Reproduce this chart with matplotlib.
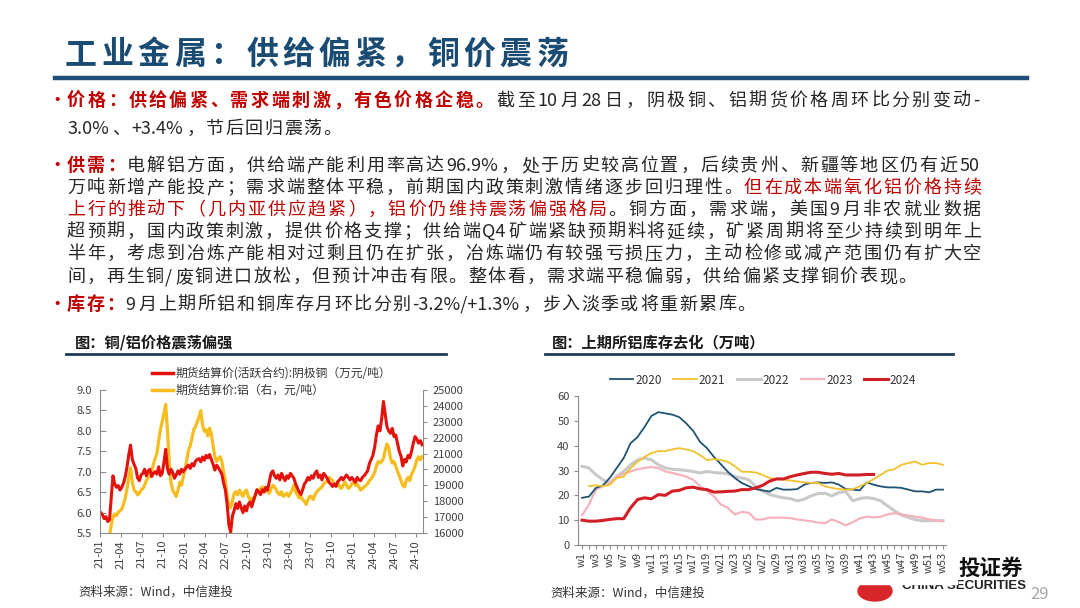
import matplotlib
matplotlib.use('Agg')
import numpy as np
import pandas as pd
import matplotlib.pyplot as plt
import matplotlib.dates as mdates
from matplotlib.lines import Line2D
from matplotlib.patches import Rectangle, Ellipse

plt.rcParams['font.family'] = ['Noto Sans CJK SC', 'DejaVu Sans']
plt.rcParams['axes.unicode_minus'] = False

# ---------------- data ----------------
# 阴极铜期货结算价 (万元/吨), 4 points per month, 2021-01 .. 2024-10
copper = [
    6.00, 5.95, 5.85, 5.90,  5.78, 5.82, 6.35, 6.90,  6.70, 6.62, 6.66, 6.55,
    6.62, 6.72, 6.88, 7.12,  7.42, 7.65, 7.30, 7.18,  7.08, 6.85, 6.78, 6.92,
    6.96, 7.06, 6.90, 7.02,  7.06, 6.88, 6.96, 7.00,  6.94, 7.12, 6.90, 6.96,
    7.22, 7.55, 7.08, 6.94,  7.06, 6.98, 6.84, 6.92,  7.02, 6.94, 7.06, 7.00,
    7.06, 7.12, 7.16, 7.08,  7.20, 7.14, 7.26, 7.30,  7.32, 7.24, 7.36, 7.28,
    7.40, 7.34, 7.42, 7.30,  7.18, 7.04, 7.16, 7.10,  7.02, 6.94, 6.72, 6.55,
    6.20, 5.70, 5.52, 5.92,  6.05, 6.22, 6.10, 6.26,  6.12, 6.00, 6.16, 6.04,
    6.20, 6.26, 6.14, 6.30,  6.42, 6.56, 6.50, 6.44,  6.56, 6.50, 6.62, 6.55,
    6.76, 6.96, 7.02, 6.90,  6.84, 6.92, 6.80, 6.96,  6.86, 6.78, 6.90, 6.84,
    6.96, 6.90, 6.84, 6.70,  6.60, 6.50, 6.44, 6.56,  6.70, 6.76, 6.86, 6.80,
    6.90, 6.84, 6.96, 7.02,  6.86, 6.92, 6.80, 6.96,  6.90, 6.84, 6.74, 6.70,
    6.64, 6.70, 6.64, 6.76,  6.80, 6.86, 6.80, 6.86,  6.92, 6.86, 6.80, 6.86,
    6.80, 6.74, 6.86, 6.80,  6.78, 6.86, 6.90, 6.96,  7.02, 7.20, 7.30, 7.40,
    7.60, 7.90, 8.12, 8.00,  8.30, 8.72, 8.40, 8.10,  8.00, 7.94, 8.06, 7.86,
    7.90, 7.70, 7.50, 7.38,  7.14, 7.30, 7.24, 7.40,  7.34, 7.50, 7.70, 7.86,
    7.80, 7.70, 7.76, 7.66,
]
# 铝期货结算价 (元/吨)
aluminum = [
    15200, 15100, 15000, 15300,  15400, 15800, 16500, 17000,  17200, 17100, 17300, 17400,
    17500, 17800, 18200, 18800,  19500, 20100, 19200, 18700,  18600, 18400, 18500, 18700,
    18800, 19000, 19300, 19500,  19600, 19900, 20300, 20700,  21000, 21800, 22500, 23000,
    23500, 24100, 22500, 20500,  19200, 18700, 18500, 18300,  18700, 19200, 19000, 19500,
    20000, 20600, 21200, 21500,  22000, 22500, 22700, 23000,  23300, 23700, 22800, 22400,
    22500, 22100, 22600, 22200,  21500, 20800, 20500, 20700,  20800, 20500, 19800, 19300,
    18400, 17700, 17600, 18000,  18500, 18600, 18400, 18700,  18500, 18300, 18600, 18700,
    18300, 18100, 18200, 18000,  18400, 18700, 18600, 18800,  18900, 18800, 18700, 18600,
    18500, 18800, 19000, 18900,  18700, 18500, 18400, 18600,  18300, 18400, 18500, 18300,
    18500, 18700, 19000, 18600,  18400, 18200, 18300, 18100,  18000, 17800, 18100, 18300,
    18300, 18100, 18400, 18600,  18700, 18800, 18900, 19100,  19200, 19300, 19500, 19400,
    19300, 19100, 19000, 19200,  18900, 18800, 19000, 19200,  19000, 18800, 18900, 19100,
    19200, 19000, 19100, 18900,  18700, 18800, 18900, 19000,  19100, 19300, 19400, 19600,
    19800, 20200, 20500, 20400,  20500, 20700, 21200, 21600,  21400, 20700, 20400, 20500,
    20200, 19900, 19600, 19300,  19000, 18900, 19300, 19500,  19300, 19700, 19900, 20200,
    20600, 20800, 20600, 20800,
]
price_start, price_end = '2021-01-04', '2024-10-28'
legend_price = ['期货结算价(活跃合约):阴极铜（万元/吨）', '期货结算价:铝（右，元/吨）']

# 上期所铝库存 (万吨), by week
weeks = list(range(1, 54))
week_labels = ['w%d' % w if w % 2 == 1 else '' for w in weeks]
nan = np.nan
inv_2020 = [19.0, 19.5, 23.0, 24.0, 27.0, 31.0, 35.0, 41.0, 43.5, 47.5,
            52.0, 53.5, 53.0, 52.5, 51.5, 49.0, 46.0, 41.5, 39.0, 35.5,
            32.5, 29.5, 27.0, 25.0, 23.7, 22.5, 22.0, 21.5, 23.0, 22.3,
            22.3, 22.5, 24.3, 25.0, 25.2, 25.0, 25.2, 24.3, 22.5, 22.3,
            22.0, 25.2, 24.3, 23.6, 23.2, 23.2, 23.0, 22.3, 21.6, 21.6,
            21.2, 22.3, 22.3]
inv_2021 = [nan, 23.7, 24.0, 23.7, 24.2, 27.0, 27.5, 31.0, 33.5, 35.5,
            37.0, 37.8, 37.8, 38.5, 39.0, 38.5, 37.8, 36.2, 34.2, 34.6,
            34.2, 33.5, 31.8, 29.5, 29.5, 29.2, 28.2, 27.0, 26.5, 26.3,
            26.0, 25.6, 25.2, 25.0, 25.0, 23.6, 23.0, 22.5, 22.3, 22.5,
            23.6, 25.0, 26.5, 28.2, 30.0, 30.5, 32.3, 33.0, 33.6, 32.3,
            33.0, 33.0, 32.3]
inv_2022 = [31.7, 31.0, 28.3, 26.3, 25.0, 27.6, 29.6, 32.3, 34.3, 35.0,
            34.3, 32.3, 31.0, 30.5, 30.3, 30.0, 29.6, 29.0, 29.6, 29.2,
            29.0, 28.7, 27.6, 27.0, 26.3, 23.7, 21.7, 20.3, 19.6, 19.0,
            18.7, 17.8, 18.4, 19.8, 20.7, 20.8, 19.8, 21.1, 21.5, 17.8,
            18.7, 19.1, 18.7, 17.8, 15.8, 13.8, 12.1, 11.1, 10.2, 9.8,
            9.8, 9.8, 9.8]
inv_2023 = [12.0, 16.3, 22.3, 23.7, 25.0, 27.6, 28.7, 29.6, 30.5, 31.0,
            31.4, 31.0, 29.6, 29.0, 28.3, 27.6, 26.3, 23.7, 21.7, 19.6,
            16.3, 15.0, 12.3, 13.3, 13.0, 10.3, 10.3, 11.0, 11.0, 11.0,
            10.8, 10.3, 9.9, 9.6, 9.0, 8.8, 10.3, 9.2, 7.9, 9.2,
            10.7, 11.4, 11.1, 11.4, 12.3, 12.8, 12.3, 11.9, 11.4, 11.0,
            10.3, 9.9, 9.6]
inv_2024 = [10.0, 9.6, 9.6, 9.9, 10.3, 10.6, 10.6, 15.0, 18.3, 19.0,
            18.6, 20.3, 20.0, 21.7, 22.0, 23.0, 23.3, 22.6, 22.3, 21.3,
            21.4, 21.6, 21.7, 22.3, 22.3, 23.0, 24.0, 25.7, 26.6, 26.6,
            27.5, 28.2, 28.8, 29.3, 29.3, 28.8, 28.5, 28.8, 28.2, 28.2,
            28.2, 28.4, 28.4] + [nan] * 10
inv_years = ['2020', '2021', '2022', '2023', '2024']

RED = '#C00000'
INK = '#262626'
NAVY = '#1A4B73'

# ---------------- figure ----------------
W, H = 1080, 608
fig = plt.figure(figsize=(10.8, 6.08), dpi=100)
fig.patch.set_facecolor('white')
R = fig.canvas.get_renderer()


def fx(px):
    return px / W


def fy(py):
    return 1 - py / H


def put_line(segs, x0, base, fs, right=None, gap=1.5):
    # lays out text piece by piece so lines can be justified like the slide
    em = fs * 100 / 72.0
    items = []
    for txt, col, wt in segs:
        run = ''
        for ch in txt:
            if ord(ch) >= 0x2E80:
                if run:
                    items.append([run, col, wt, None])
                    run = ''
                items.append([ch, col, wt, em])
            else:
                run += ch
        if run:
            items.append([run, col, wt, None])
    for it in items:
        if it[3] is None:
            t = fig.text(0, 0, it[0], fontsize=fs, weight=it[2])
            it[3] = t.get_window_extent(renderer=R).width + 1.5
            t.remove()
    if right is not None and len(items) > 1:
        gap = (right - x0 - sum(i[3] for i in items)) / (len(items) - 1)
    x = x0
    for s, col, wt, w in items:
        fig.text(fx(x), fy(base), s, fontsize=fs, color=col, weight=wt,
                 ha='left', va='baseline')
        x += w + gap


# title
put_line([('工业金属：供给偏紧，铜价震荡', NAVY, 'bold')], 65, 64, 23, right=568)
fig.add_artist(Line2D([fx(55), fx(1027)], [fy(78), fy(78)], lw=3.2, color='#1F4E79'))

# bullet text
FS = 13
R_EDGE = 981
for yb in (106, 171, 310):
    fig.text(fx(47), fy(yb), '•', fontsize=14, color=RED, ha='left', va='baseline')

put_line([('价格：供给偏紧、需求端刺激，有色价格企稳。', RED, 'bold'),
          ('截至10月28日，阴极铜、铝期货价格周环比分别变动-', INK, 'normal')], 67, 106, FS, R_EDGE)
put_line([('3.0%、+3.4%，节后回归震荡。', INK, 'normal')], 67, 134, FS)
put_line([('供需：', RED, 'bold'),
          ('电解铝方面，供给端产能利用率高达96.9%，处于历史较高位置，后续贵州、新疆等地区仍有近50', INK, 'normal')],
         67, 171, FS, R_EDGE)
put_line([('万吨新增产能投产；需求端整体平稳，前期国内政策刺激情绪逐步回归理性。', INK, 'normal'),
          ('但在成本端氧化铝价格持续', RED, 'normal')], 67, 193, FS, R_EDGE)
put_line([('上行的推动下（几内亚供应趋紧），铝价仍维持震荡偏强格局', RED, 'normal'),
          ('。铜方面，需求端，美国9月非农就业数据', INK, 'normal')], 67, 215, FS, R_EDGE)
put_line([('超预期，国内政策刺激，提供价格支撑；供给端Q4矿端紧缺预期料将延续，矿紧周期将至少持续到明年上', INK, 'normal')],
         67, 237, FS, R_EDGE)
put_line([('半年，考虑到冶炼产能相对过剩且仍在扩张，冶炼端仍有较强亏损压力，主动检修或减产范围仍有扩大空', INK, 'normal')],
         67, 259, FS, R_EDGE)
put_line([('间，再生铜/废铜进口放松，但预计冲击有限。整体看，需求端平稳偏弱，供给偏紧支撑铜价表现。', INK, 'normal')],
         67, 282, FS)
put_line([('库存：', RED, 'bold'),
          ('9月上期所铝和铜库存月环比分别-3.2%/+1.3%，步入淡季或将重新累库。', INK, 'normal')], 67, 310, FS)

# chart headers
fig.text(fx(75), fy(347), '图：铜/铝价格震荡偏强', fontsize=11, weight='bold', color='#1a1a1a',
         ha='left', va='baseline')
fig.add_artist(Line2D([fx(66), fx(446)], [fy(354), fy(354)], lw=2.0, color='#1F3A5A'))
fig.text(fx(552), fy(347), '图：上期所铝库存去化（万吨）', fontsize=11, weight='bold', color='#1a1a1a',
         ha='left', va='baseline')
fig.add_artist(Line2D([fx(545), fx(953)], [fy(354), fy(354)], lw=2.0, color='#1F3A5A'))

GRAYTXT = '#404040'
SPINE = '#8c8c8c'

# logo block (drawn first, partly hidden behind the chart area like on the slide)
fig.add_artist(Ellipse((fx(875), fy(591)), 34 / W, 20 / H, color='#D9262B', zorder=1))
fig.text(fx(902), fy(589), 'CHINA SECURITIES', fontsize=9.5, weight='bold', color='#222222',
         ha='left', va='baseline', zorder=1, family=['Liberation Sans', 'DejaVu Sans'])
fig.add_artist(Rectangle((fx(845), fy(584)), 112 / W, 8 / H, color='white', zorder=2))
fig.text(fx(958), fy(575), '投证券', fontsize=15.5, weight='bold', color='#111111', ha='left', va='baseline')
fig.text(fx(1030), fy(599), '29', fontsize=12, color='#A6A6A6', ha='left', va='baseline')

# ---------------- left chart ----------------
dates = pd.date_range(price_start, price_end, periods=len(copper))
ax = fig.add_axes([fx(100), fy(533), (423 - 100) / W, (533 - 390) / H])
ax2 = ax.twinx()
ax2.plot(dates, aluminum, color='#F7BD1E', lw=2.3)
ax.plot(dates, copper, color='#E3120B', lw=2.2)
ax.set_zorder(ax2.get_zorder() + 1)
ax.patch.set_visible(False)

ax.set_ylim(5.5, 9.0)
ax2.set_ylim(16000, 25000)
ax.set_yticks(np.arange(5.5, 9.01, 0.5))
ax.set_yticklabels(['%.1f' % v for v in np.arange(5.5, 9.01, 0.5)])
ax2.set_yticks(np.arange(16000, 25001, 1000))
ax.set_xlim(pd.Timestamp('2021-01-01'), pd.Timestamp('2024-11-01'))
ax.xaxis.set_major_locator(mdates.MonthLocator(bymonth=[1, 4, 7, 10]))
ax.xaxis.set_major_formatter(mdates.DateFormatter('%y-%m'))

for s in ('top', 'right'):
    ax.spines[s].set_visible(False)
for s in ('top', 'left', 'bottom'):
    ax2.spines[s].set_visible(False)
for sp in (ax.spines['left'], ax.spines['bottom'], ax2.spines['right']):
    sp.set_color(SPINE)
    sp.set_linewidth(0.8)
ax.tick_params(axis='y', direction='in', length=4, color=SPINE, labelsize=8, labelcolor=GRAYTXT, pad=6)
ax.tick_params(axis='x', direction='out', length=3, color=SPINE, labelsize=8, labelcolor=GRAYTXT,
               rotation=90, pad=2)
ax2.tick_params(axis='y', direction='out', length=3, color=SPINE, labelsize=8, labelcolor=GRAYTXT, pad=4)

h_cu = Line2D([], [], color='#E3120B', lw=2.5)
h_al = Line2D([], [], color='#F7BD1E', lw=2.5)
ax.legend([h_cu, h_al], legend_price, loc='upper left', bbox_to_anchor=(fx(152), fy(367)),
          bbox_transform=fig.transFigure, frameon=False, fontsize=8.5, handlelength=1.8,
          handletextpad=0.2, labelspacing=0.35, borderpad=0, borderaxespad=0, labelcolor='#333333')

# ---------------- right chart ----------------
bx = fig.add_axes([fx(578), fy(545), (946 - 578) / W, (545 - 396) / H])
styles = {
    '2020': ('#1F5373', 1.3, 3),
    '2021': ('#F2C12E', 1.3, 4),
    '2022': ('#C9C9C9', 2.2, 1),
    '2023': ('#F4B3BC', 1.6, 2),
    '2024': ('#D21F26', 2.2, 5),
}
for yr, vals in zip(inv_years, [inv_2020, inv_2021, inv_2022, inv_2023, inv_2024]):
    c, lw, z = styles[yr]
    bx.plot(weeks, vals, color=c, lw=lw, zorder=z, label=yr)

bx.set_ylim(0, 60)
bx.set_yticks(range(0, 61, 10))
bx.set_xlim(0.42, 53.43)
bx.set_xticks(weeks)
bx.set_xticklabels(week_labels)
for s in ('top', 'right'):
    bx.spines[s].set_visible(False)
for s in ('left', 'bottom'):
    bx.spines[s].set_color(SPINE)
    bx.spines[s].set_linewidth(0.8)
bx.tick_params(axis='y', direction='out', length=3, color=SPINE, labelsize=8, labelcolor=GRAYTXT, pad=3)
bx.tick_params(axis='x', direction='out', length=3, color=SPINE, labelsize=8, labelcolor=GRAYTXT,
               rotation=90, pad=2)
bx.legend(ncol=5, loc='center', bbox_to_anchor=(fx(763), fy(380)), bbox_transform=fig.transFigure,
          frameon=False, fontsize=8.5, handlelength=2.0, handletextpad=0.15, columnspacing=1.0,
          labelcolor='#333333', borderpad=0)

# ---------------- footer ----------------
fig.text(fx(78), fy(596), '资料来源：Wind，中信建投', fontsize=9, color='#333333', ha='left', va='baseline')
fig.text(fx(550), fy(597), '资料来源：Wind，中信建投', fontsize=9, color='#333333', ha='left', va='baseline')

fig.savefig('out.png', dpi=100)
